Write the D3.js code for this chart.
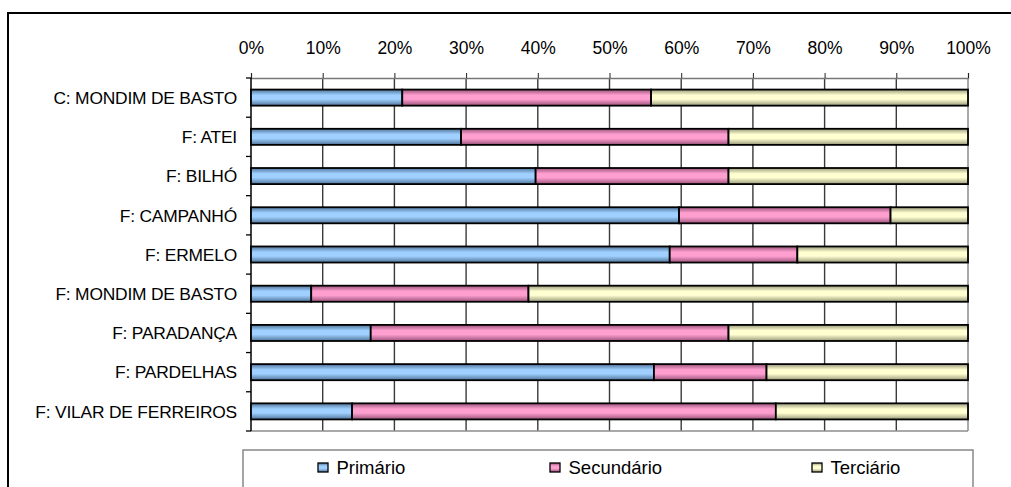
<!DOCTYPE html>
<html><head><meta charset="utf-8">
<script src="https://cdn.jsdelivr.net/npm/d3@7"></script>
<style>body{margin:0;background:#fff}svg{display:block}text{font-family:"Liberation Sans",Arial,sans-serif;fill:#000}</style>
</head><body>
<svg id="c" width="1011" height="487"></svg>
<script>
const categories = ["C: MONDIM DE BASTO","F: ATEI","F: BILHÓ","F: CAMPANHÓ","F: ERMELO","F: MONDIM DE BASTO","F: PARADANÇA","F: PARDELHAS","F: VILAR DE FERREIROS"];
const seriesNames = ["Primário","Secundário","Terciário"];
const primario   = [21.1, 29.3, 39.7, 59.7, 58.4, 8.4, 16.7, 56.2, 14.1];
const secundario = [34.7, 37.3, 26.9, 29.5, 17.8, 30.3, 49.9, 15.7, 59.1];
const terciario  = [44.2, 33.4, 33.4, 10.8, 23.8, 61.3, 33.4, 28.1, 26.8];
const tickLabels = ["0%","10%","20%","30%","40%","50%","60%","70%","80%","90%","100%"];

(function(){
const colors = [
  {light:"#9fd0ff", dark:"#4f7399"},
  {light:"#ff9fd0", dark:"#99527a"},
  {light:"#ffffd2", dark:"#99997a"}
];

const svg = d3.select("#c");
const pl = 251, pr = 968, pt = 78, pb = 431;
const x = d3.scaleLinear().domain([0,100]).range([pl,pr]);
const y = d3.scaleBand().domain(categories).range([pt,pb]).paddingInner(0.59).paddingOuter(0.295);

const defs = svg.append("defs");
colors.forEach((c,i)=>{
  const g = defs.append("linearGradient").attr("id","g"+i).attr("x1",0).attr("y1",0).attr("x2",0).attr("y2",1);
  g.append("stop").attr("offset","0%").attr("stop-color",c.dark);
  g.append("stop").attr("offset","35%").attr("stop-color",c.light);
  g.append("stop").attr("offset","60%").attr("stop-color",c.light);
  g.append("stop").attr("offset","100%").attr("stop-color",c.dark);
});

svg.append("rect").attr("x",8).attr("y",13).attr("width",1100).attr("height",600)
  .attr("fill","none").attr("stroke","#000").attr("stroke-width",2);

const ticks = d3.range(0,101,10);
svg.append("g").selectAll("line").data(ticks.slice(1,-1)).join("line")
  .attr("x1",d=>x(d)).attr("x2",d=>x(d)).attr("y1",pt).attr("y2",pb)
  .attr("stroke","#3a3a3a").attr("stroke-width",1.4);
svg.append("line").attr("x1",pl).attr("x2",pr).attr("y1",pb).attr("y2",pb).attr("stroke","#8c8c8c").attr("stroke-width",1.5);
svg.append("line").attr("x1",pr).attr("x2",pr).attr("y1",pt).attr("y2",pb).attr("stroke","#8c8c8c").attr("stroke-width",1.5);

const xAxis = d3.axisTop(x).tickValues(ticks).tickSize(5).tickPadding(19).tickFormat((d,i)=>tickLabels[i]);
const gx = svg.append("g").attr("transform",`translate(0,${pt})`).call(xAxis);
gx.attr("font-family",null).attr("font-size",null);
gx.select(".domain").attr("stroke","#777").attr("stroke-width",1.3);
gx.selectAll(".tick line").attr("stroke","#222");
gx.selectAll("text").style("font-size","17.5px");

const bounds = d3.range(categories.length+1).map(i=>pt + i*y.step());
svg.append("line").attr("x1",pl).attr("x2",pl).attr("y1",pt).attr("y2",pb).attr("stroke","#000").attr("stroke-width",1.5);
svg.append("g").selectAll("line").data(bounds).join("line")
  .attr("x1",pl-5).attr("x2",pl).attr("y1",d=>d).attr("y2",d=>d).attr("stroke","#000").attr("stroke-width",1.3);
svg.append("g").selectAll("text").data(categories).join("text")
  .attr("x",pl-14).attr("y",d=>y(d)+y.bandwidth()/2).attr("dy","0.36em")
  .attr("text-anchor","end").style("font-size","17.4px").style("letter-spacing","-0.2px").text(d=>d);

const rows = categories.map((c,i)=>({cat:c, v:[primario[i],secundario[i],terciario[i]]}));
const stack = d3.stack().keys([0,1,2]).value((d,k)=>d.v[k]);
const layers = stack(rows);
layers.forEach((layer,k)=>{
  svg.append("g").selectAll("rect").data(layer).join("rect")
    .attr("x",d=>x(d[0])).attr("width",d=>x(d[1])-x(d[0]))
    .attr("y",d=>y(d.data.cat)).attr("height",y.bandwidth())
    .attr("fill",`url(#g${k})`).attr("stroke","#000").attr("stroke-width",1.8);
});

svg.append("rect").attr("x",243).attr("y",450).attr("width",730).attr("height",60)
  .attr("fill","#fff").attr("stroke","#888").attr("stroke-width",1.5);
const legX = [318, 550, 812];
const lg = svg.append("g").selectAll("g").data(seriesNames).join("g")
  .attr("transform",(d,i)=>`translate(${legX[i]},463)`);
lg.append("rect").attr("width",10).attr("height",9).attr("fill",(d,i)=>`url(#g${i})`).attr("stroke","#000").attr("stroke-width",1.3);
lg.append("text").attr("x",18.5).attr("y",11).style("font-size","18.5px").text(d=>d);
})();
</script>
</body></html>
